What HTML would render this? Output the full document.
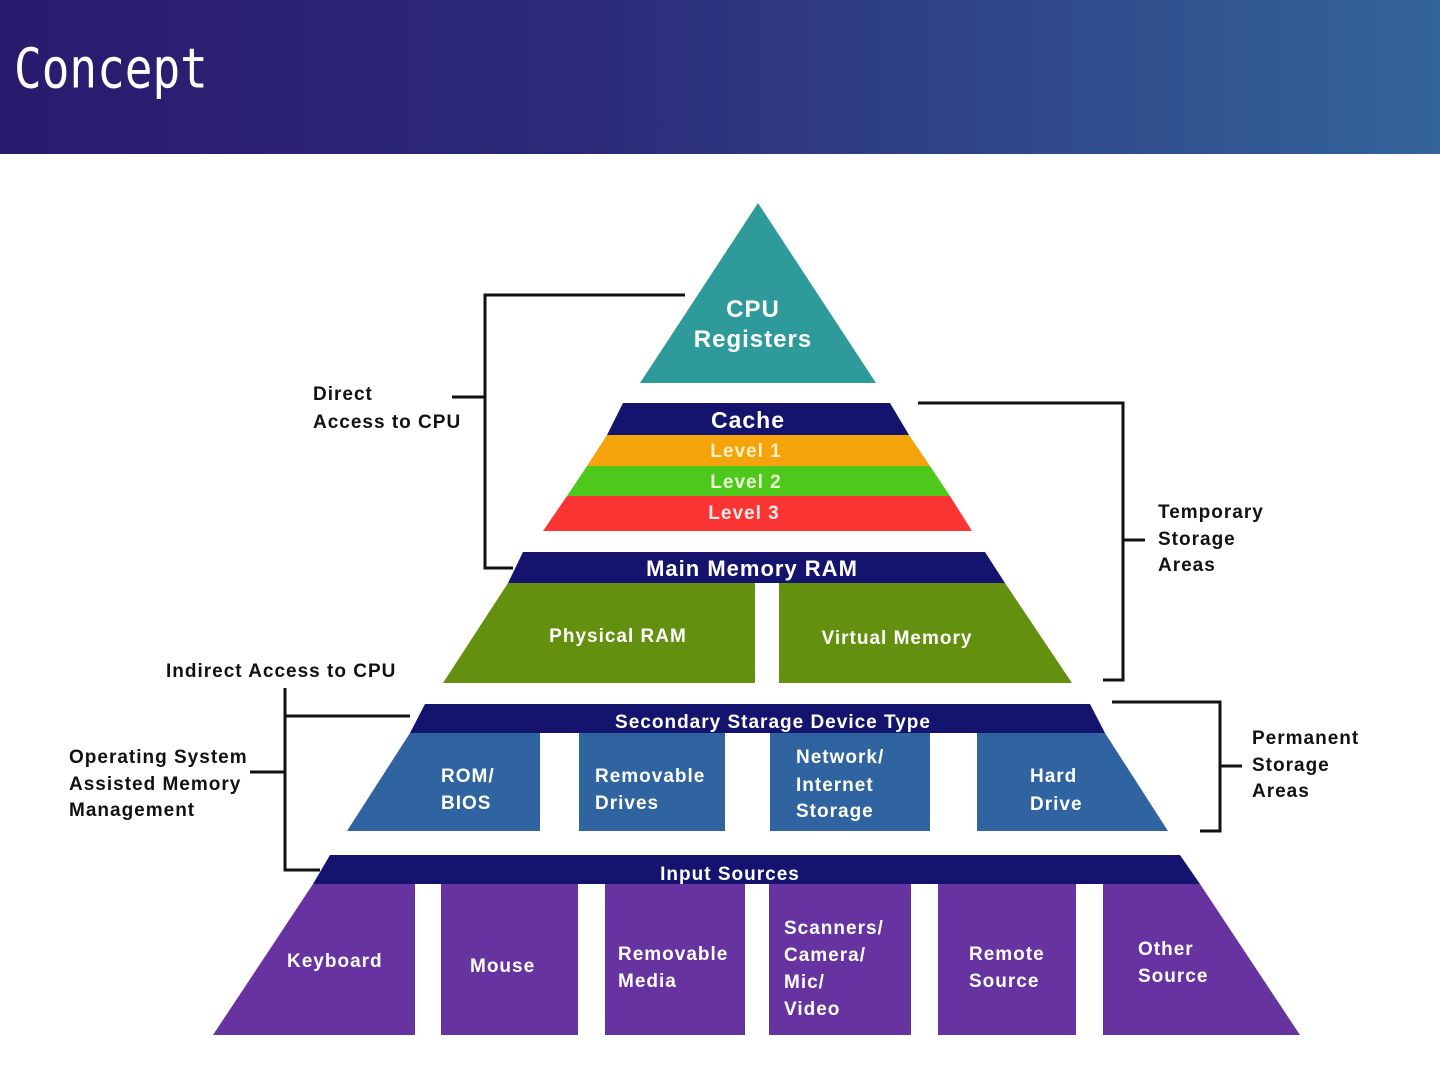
<!DOCTYPE html>
<html><head><meta charset="utf-8"><style>
body{margin:0;width:1440px;height:1080px;overflow:hidden;background:#fff;font-family:"Liberation Sans",sans-serif}
.hd{position:absolute;left:0;top:0;width:1440px;height:154px;background:linear-gradient(90deg,#2a1a6e 0%,#2c2a78 40%,#33649a 100%)}
.hd span{position:absolute;left:14px;top:36px;color:#fff;font-family:"DejaVu Sans Mono","Liberation Mono",monospace;font-size:46px;transform:scale(1,1.2);transform-origin:0 0;letter-spacing:0px}
svg{position:absolute;left:0;top:0}
</style></head><body>
<div class="hd"><span>Concept</span></div>
<svg width="1440" height="1080" viewBox="0 0 1440 1080" font-family="Liberation Sans, sans-serif" font-weight="bold">
<polygon points="758,203 876,383 640,383" fill="#2e9a9a"/>
<polygon points="623,403 890,403 909,435 607,435" fill="#14146e"/>
<polygon points="607,435 909,435 930,466 587,466" fill="#f5a30a"/>
<polygon points="587,466 930,466 950,496 567,496" fill="#4ec81a"/>
<polygon points="567,496 950,496 972,531 543,531" fill="#fb3434"/>
<polygon points="523,552 985,552 1005,583 508,583" fill="#14146e"/>
<polygon points="508,583 755,583 755,683 443,683" fill="#64900f"/>
<polygon points="779,583 1005,583 1072,683 779,683" fill="#64900f"/>
<polygon points="425,704 1090,704 1105,733 410,733" fill="#14146e"/>
<polygon points="410,733 540,733 540,831 347,831" fill="#2f64a0"/>
<rect x="579" y="733" width="146" height="98" fill="#2f64a0"/>
<rect x="770" y="733" width="160" height="98" fill="#2f64a0"/>
<polygon points="977,733 1105,733 1168,831 977,831" fill="#2f64a0"/>
<polygon points="330,855 1180,855 1200,884 313,884" fill="#14146e"/>
<polygon points="313,884 415,884 415,1035 213,1035" fill="#6633a0"/>
<rect x="441" y="884" width="137" height="151" fill="#6633a0"/>
<rect x="605" y="884" width="140" height="151" fill="#6633a0"/>
<rect x="769" y="884" width="142" height="151" fill="#6633a0"/>
<rect x="938" y="884" width="138" height="151" fill="#6633a0"/>
<polygon points="1103,884 1200,884 1300,1035 1103,1035" fill="#6633a0"/>
<g fill="none" stroke="#111" stroke-width="3">
<polyline points="685,295 485,295 485,568 513,568"/>
<line x1="452" y1="397" x2="485" y2="397"/>
<polyline points="918,403 1123,403 1123,680 1103,680"/>
<line x1="1123" y1="540" x2="1145" y2="540"/>
<polyline points="1112,702 1220,702 1220,831 1200,831"/>
<line x1="1220" y1="766" x2="1242" y2="766"/>
<polyline points="410,716 285,716 285,870 320,870"/>
<line x1="285" y1="688" x2="285" y2="716"/>
<line x1="250" y1="772" x2="285" y2="772"/>
</g>
<g fill="#fff" text-anchor="middle" letter-spacing="1">
<text x="753" y="317" font-size="24">CPU</text>
<text x="753" y="347" font-size="24">Registers</text>
<text x="748" y="428" font-size="23">Cache</text>
<text x="746" y="457" font-size="19" fill="#fdf0c0">Level 1</text>
<text x="746" y="488" font-size="19" fill="#eaffd8">Level 2</text>
<text x="744" y="519" font-size="19" fill="#ffe8e8">Level 3</text>
<text x="752" y="576" font-size="22">Main Memory RAM</text>
<text x="618" y="642" font-size="19">Physical RAM</text>
<text x="897" y="644" font-size="19">Virtual Memory</text>
<text x="773" y="728" font-size="19">Secondary Starage Device Type</text>
<text x="730" y="880" font-size="19">Input Sources</text>
</g>
<g fill="#fff" font-size="19" letter-spacing="1">
<text x="441" y="782">ROM/</text><text x="441" y="809">BIOS</text>
<text x="595" y="782">Removable</text><text x="595" y="809">Drives</text>
<text x="796" y="763">Network/</text><text x="796" y="791">Internet</text><text x="796" y="817">Storage</text>
<text x="1030" y="782">Hard</text><text x="1030" y="810">Drive</text>
<text x="287" y="967">Keyboard</text>
<text x="470" y="972">Mouse</text>
<text x="618" y="960">Removable</text><text x="618" y="987">Media</text>
<text x="784" y="934">Scanners/</text><text x="784" y="961">Camera/</text><text x="784" y="988">Mic/</text><text x="784" y="1015">Video</text>
<text x="969" y="960">Remote</text><text x="969" y="987">Source</text>
<text x="1138" y="955">Other</text><text x="1138" y="982">Source</text>
</g>
<g fill="#111" font-size="19" letter-spacing="1">
<text x="313" y="400">Direct</text><text x="313" y="428">Access to CPU</text>
<text x="1158" y="518">Temporary</text><text x="1158" y="545">Storage</text><text x="1158" y="571">Areas</text>
<text x="166" y="677">Indirect Access to CPU</text>
<text x="69" y="763">Operating System</text><text x="69" y="790">Assisted Memory</text><text x="69" y="816">Management</text>
<text x="1252" y="744">Permanent</text><text x="1252" y="771">Storage</text><text x="1252" y="797">Areas</text>
</g>
</svg>
</body></html>
